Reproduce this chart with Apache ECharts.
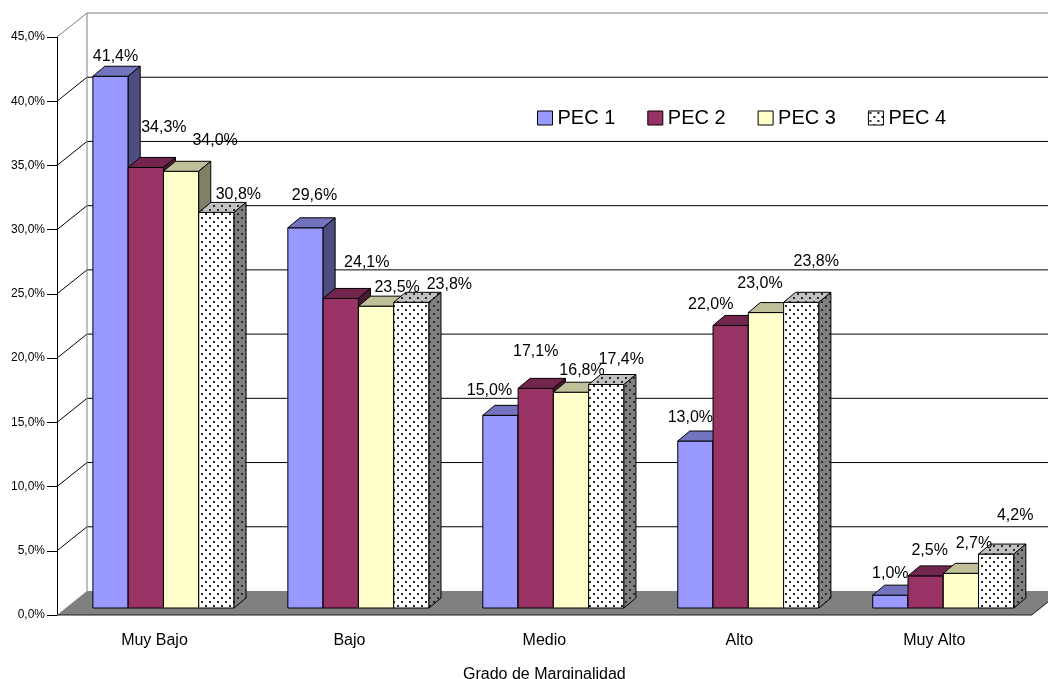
<!DOCTYPE html>
<html>
<head>
<meta charset="utf-8">
<script src="https://cdn.jsdelivr.net/npm/echarts@6/dist/echarts.min.js"></script>
<style>
  html, body { margin: 0; padding: 0; background: #ffffff; }
  #chart { width: 1048px; height: 679px; }
</style>
</head>
<body>
<div id="chart"></div>
<script>
// ---- data ----
const categories = ['Muy Bajo', 'Bajo', 'Medio', 'Alto', 'Muy Alto'];
const seriesNames = ['PEC 1', 'PEC 2', 'PEC 3', 'PEC 4'];
const pec1 = [41.4, 29.6, 15.0, 13.0, 1.0];
const pec2 = [34.3, 24.1, 17.1, 22.0, 2.5];
const pec3 = [34.0, 23.5, 16.8, 23.0, 2.7];
const pec4 = [30.8, 23.8, 17.4, 23.8, 4.2];
const yTickValues = [0, 5, 10, 15, 20, 25, 30, 35, 40, 45];
const axisTitle = 'Grado de Marginalidad';

// ---- layout / style ----
const FONT = "'Liberation Sans', Arial, sans-serif";
const WALL_DEPTH = [30, -24];   // offset of the back wall from the front plane
const BAR_DEPTH = [12, -10];    // depth of each box
const BAR_SHIFT = [9, -7];      // boxes sit in the middle of the floor depth
const GROUP_FRAC = 0.724;       // share of a category band taken by its four boxes

// label nudges (px) from the centre of each box's top face, [series][category]
const labelNudge = [
  [[-1, -15], [3, -27], [-17, -20], [-11, -18], [-6, -17]],
  [[12, -35], [20, -31], [-6, -32], [-26, -16], [-2, -20]],
  [[28, -26], [15, -14], [5, -17], [-12, -24], [7, -25]],
  [[16, -13], [32, -13], [9, -20], [9, -36], [13, -33]]
];

function dotPattern(bg) {
  const c = document.createElement('canvas');
  c.width = 8; c.height = 8;
  const g = c.getContext('2d');
  g.fillStyle = bg; g.fillRect(0, 0, 8, 8);
  g.fillStyle = '#2a2a2a';
  g.fillRect(1, 1, 2, 2);
  g.fillRect(5, 5, 2, 2);
  return { image: c, repeat: 'repeat' };
}

const faceStyles = [
  { front: '#9999FF', top: '#7373C0', side: '#4D4D80' },
  { front: '#993366', top: '#73264D', side: '#4D1A33' },
  { front: '#FFFFCC', top: '#BFBF99', side: '#808066' },
  { front: dotPattern('#FFFFFF'), top: dotPattern('#C0C0C0'), side: dotPattern('#808080') }
];

const seriesValues = [pec1, pec2, pec3, pec4];
const fmt = v => v.toFixed(1).replace('.', ',') + '%';

function boxGeom(api, k) {
  const ci = api.value(0), v = api.value(1);
  const c = api.coord([ci, v]);
  const base = api.coord([ci, 0]);
  const band = api.size([1, 0])[0];
  const bw = band * GROUP_FRAC / 4;
  const x0 = c[0] - band * GROUP_FRAC / 2 + k * bw + BAR_SHIFT[0];
  return { x0: x0, x1: x0 + bw, yT: c[1] + BAR_SHIFT[1], yB: base[1] + BAR_SHIFT[1], bw: bw };
}

function boxRenderer(k) {
  const fs = faceStyles[k];
  return function (params, api) {
    const g = boxGeom(api, k);
    const dx = BAR_DEPTH[0], dy = BAR_DEPTH[1];
    return {
      type: 'group',
      children: [
        { type: 'rect', shape: { x: g.x0, y: g.yT, width: g.bw, height: g.yB - g.yT },
          style: { fill: fs.front, stroke: '#000', lineWidth: 1 } },
        { type: 'polygon', shape: { points: [[g.x0, g.yT], [g.x1, g.yT], [g.x1 + dx, g.yT + dy], [g.x0 + dx, g.yT + dy]] },
          style: { fill: fs.top, stroke: '#000', lineWidth: 1 } },
        { type: 'polygon', shape: { points: [[g.x1, g.yT], [g.x1, g.yB], [g.x1 + dx, g.yB + dy], [g.x1 + dx, g.yT + dy]] },
          style: { fill: fs.side, stroke: '#000', lineWidth: 1 } }
      ]
    };
  };
}

function labelRenderer(params, api) {
  const k = api.value(2);
  const g = boxGeom(api, k);
  const n = labelNudge[k][api.value(0)];
  return {
    type: 'text',
    style: {
      text: fmt(api.value(1)),
      x: (g.x0 + g.x1) / 2 + BAR_DEPTH[0] / 2 + n[0],
      y: g.yT + BAR_DEPTH[1] / 2 + n[1],
      align: 'center', verticalAlign: 'middle',
      font: '16px ' + FONT, fill: '#000'
    }
  };
}

// walls, floor and back-wall grid
function frameRenderer(params, api) {
  const cs = params.coordSys;
  const L = cs.x, R = cs.x + cs.width;
  const wx = WALL_DEPTH[0], wy = WALL_DEPTH[1];
  const yOf = v => api.coord([0, v])[1];
  const top = yOf(yTickValues[yTickValues.length - 1]);
  const bottom = yOf(0);
  const kids = [];
  yTickValues.forEach(function (v, i) {
    if (v === 0) return;
    const y = yOf(v);
    const last = i === yTickValues.length - 1;
    const col = last ? '#808080' : '#000';
    kids.push({ type: 'line', shape: { x1: L, y1: y, x2: L + wx, y2: y + wy }, style: { stroke: col, lineWidth: 1 } });
    kids.push({ type: 'line', shape: { x1: L + wx, y1: y + wy, x2: R + wx, y2: y + wy }, style: { stroke: col, lineWidth: 1 } });
  });
  kids.push({ type: 'line', shape: { x1: L + wx, y1: top + wy, x2: L + wx, y2: bottom + wy }, style: { stroke: '#808080', lineWidth: 1 } });
  kids.push({ type: 'polygon', shape: { points: [[L, bottom], [R, bottom], [R + wx, bottom + wy], [L + wx, bottom + wy]] },
    style: { fill: '#808080' } });
  kids.push({ type: 'polyline', shape: { points: [[L, bottom], [R, bottom], [R + wx, bottom + wy]] },
    style: { stroke: '#1a1a1a', lineWidth: 1, fill: null } });
  return { type: 'group', children: kids };
}

const boxSeries = seriesNames.map(function (name, k) {
  return {
    name: name,
    type: 'custom',
    z: 3,
    renderItem: boxRenderer(k),
    itemStyle: { color: faceStyles[k].front, borderColor: '#000', borderWidth: 1 },
    data: seriesValues[k].map(function (v, i) { return [i, v]; })
  };
});

const labelData = [];
seriesValues.forEach(function (arr, k) {
  arr.forEach(function (v, i) { labelData.push([i, v, k]); });
});

const chart = echarts.init(document.getElementById('chart'), null, { renderer: 'canvas', width: 1048, height: 679 });
chart.setOption({
  animation: false,
  backgroundColor: '#ffffff',
  textStyle: { fontFamily: FONT },
  grid: { left: 57, right: 16.25, top: 37, bottom: 64, containLabel: false, outerBoundsMode: 'none' },
  legend: {
    left: 532, top: 103,
    itemWidth: 15, itemHeight: 14, itemGap: 32,
    icon: 'rect',
    textStyle: { fontSize: 20, color: '#000', fontFamily: FONT },
    data: seriesNames.map(function (n, k) {
      return { name: n, itemStyle: { color: faceStyles[k].front, borderColor: '#000', borderWidth: 1 } };
    })
  },
  xAxis: {
    type: 'category',
    data: categories,
    axisLine: { show: false },
    axisTick: { show: false },
    axisLabel: { fontSize: 16, color: '#000', margin: 18, fontFamily: FONT },
    name: axisTitle,
    nameLocation: 'middle',
    nameGap: 52,
    nameTextStyle: { fontSize: 16, color: '#000', fontFamily: FONT }
  },
  yAxis: {
    type: 'value',
    min: yTickValues[0],
    max: yTickValues[yTickValues.length - 1],
    interval: 5,
    axisLine: { show: true, lineStyle: { color: '#000', width: 1 } },
    axisTick: { show: true, length: 10, lineStyle: { color: '#000' } },
    axisLabel: { fontSize: 12, color: '#000', margin: 12, fontFamily: FONT, formatter: fmt },
    splitLine: { show: false }
  },
  series: [
    { type: 'custom', z: 1, silent: true, renderItem: frameRenderer, data: [[0, 0]] }
  ].concat(boxSeries).concat([
    { type: 'custom', z: 5, silent: true, renderItem: labelRenderer, data: labelData }
  ])
});
</script>
</body>
</html>
